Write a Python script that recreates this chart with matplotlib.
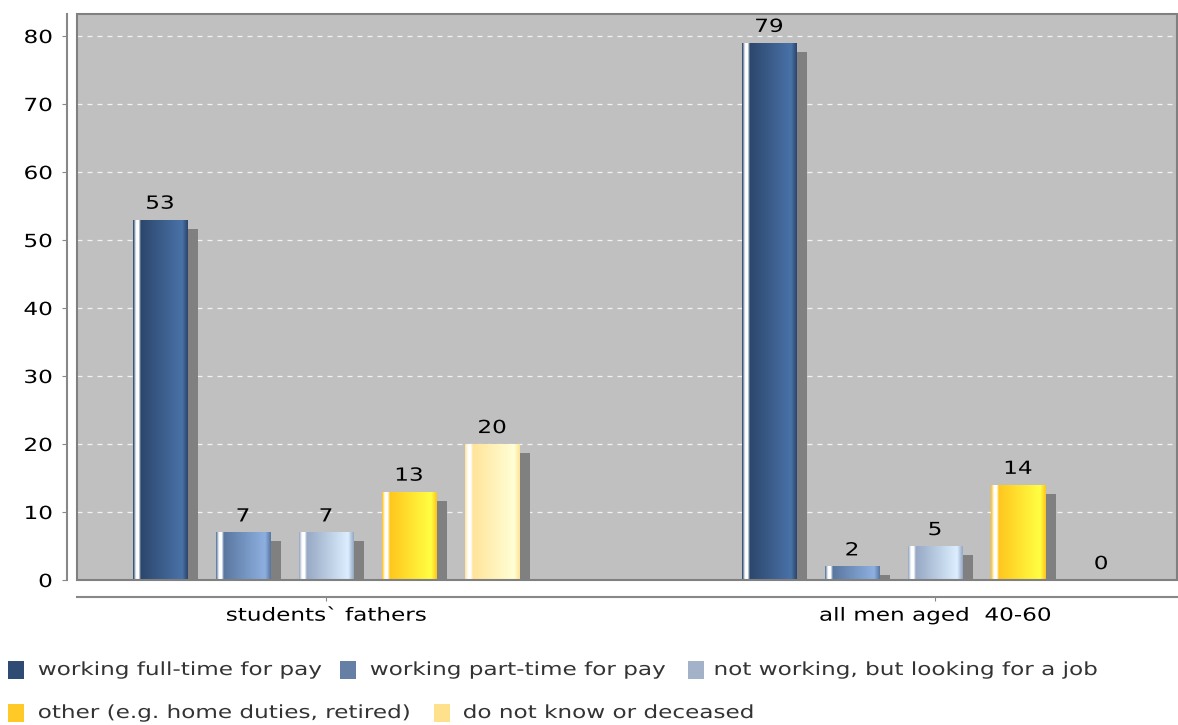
import numpy as np
import matplotlib
matplotlib.use("Agg")
import matplotlib.pyplot as plt
from matplotlib.colors import LinearSegmentedColormap
from matplotlib.patches import Rectangle
from matplotlib.patheffects import AbstractPathEffect
from matplotlib.transforms import Affine2D

categories = ["students` fathers", "all men aged  40-60"]
series = ["working full-time for pay", "working part-time for pay",
          "not working, but looking for a job",
          "other (e.g. home duties, retired)", "do not know or deceased"]
values = [
    [53, 79],
    [7, 2],
    [7, 5],
    [13, 14],
    [20, 0],
]
# dark / light ends of each bar gradient, plus legend swatch colour
dark = ["#2c476d", "#5a77a0", "#97a9c4", "#ffc61e", "#ffe49a"]
light = ["#4a72a8", "#8eb0e0", "#dceeff", "#ffff44", "#ffffd6"]
swatch = ["#2f4b73", "#667fa4", "#a3b2c8", "#ffc928", "#ffe08c"]


# the source font is a wide one, so stretch DejaVu sideways
class StretchX(AbstractPathEffect):
    def __init__(self, sx, anchor="center"):
        super().__init__()
        self.sx = sx
        self.anchor = anchor

    def draw_path(self, renderer, gc, tpath, affine, rgbFace=None):
        ext = tpath.get_extents()
        cx = {"left": ext.x0, "right": ext.x1,
              "center": (ext.x0 + ext.x1) / 2}[self.anchor]
        t = Affine2D().translate(-cx, 0).scale(self.sx, 1).translate(cx, 0)
        renderer.draw_path(gc, tpath, t + affine, rgbFace)


SX = 1.28
FS = 13
plt.rcParams['font.family'] = ['DejaVu Sans']

W, H = 1178, 725
fig = plt.figure(figsize=(W / 100, H / 100), dpi=100)
ax = fig.add_axes([77 / W, 1 - 580 / H, 1100 / W, 566 / H])

ppx = 609.0                     # pixels per category unit
ppy = 6.8                       # pixels per value unit
ax.set_xlim((77 - 326) / ppx, (1177 - 326) / ppx)
ax.set_ylim(0, 566 / ppy)

ax.set_facecolor("#c0c0c0")
for s in ["top", "right"]:
    ax.spines[s].set_visible(False)
ax.spines["left"].set_position(("outward", 7.2))
ax.spines["bottom"].set_position(("outward", 12.2))
for s in ["left", "bottom"]:
    ax.spines[s].set_color("#888888")
    ax.spines[s].set_linewidth(1.5)
ax.add_patch(Rectangle((0, 0), 1, 1, transform=ax.transAxes, fill=False,
                       edgecolor="#808080", lw=1.5, zorder=5, clip_on=False))

ax.set_yticks(range(0, 81, 10))
ax.tick_params(axis="y", length=3.6, color="#888888", labelsize=FS, pad=7)
ax.set_xticks([0, 1])
ax.set_xticklabels(categories)
ax.tick_params(axis="x", length=3, color="#888888", labelsize=FS, pad=4)
for lab in ax.get_yticklabels():
    lab.set_path_effects([StretchX(SX, "right")])
for lab in ax.get_xticklabels():
    lab.set_path_effects([StretchX(SX, "center")])

for y in range(10, 81, 10):
    ax.axhline(y, color="white", lw=0.9, ls=(0, (4, 4)), alpha=0.8, zorder=1)

bw = 55 / ppx
step = 83 / ppx
sdx = 10 / ppx
sdy = 9 / ppy

for i, name in enumerate(series):
    cmap = LinearSegmentedColormap.from_list(
        "g%d" % i,
        [(0.0, dark[i]), (0.05, "#ffffff"), (0.1, "#ffffff"), (0.14, dark[i]),
         (0.9, light[i]), (1.0, dark[i])])
    grad = np.linspace(0, 1, 100).reshape(1, -1)
    for j in range(len(categories)):
        v = values[i][j]
        x = j + (i - 2) * step
        if v - sdy > 0:
            ax.bar(x + sdx, v - sdy, width=bw, color="#808080", zorder=2,
                   linewidth=0)
        if v > 0:
            b = ax.bar(x, v, width=bw, color=dark[i], zorder=3, linewidth=0)[0]
            im = ax.imshow(grad, cmap=cmap, aspect="auto", zorder=3,
                           extent=[x - bw / 2, x + bw / 2, 0, v])
            im.set_clip_path(b)
        ax.annotate(str(v), (x, v), xytext=(0, 5), textcoords="offset points",
                    ha="center", va="bottom", fontsize=FS, zorder=6,
                    path_effects=[StretchX(SX, "center")])

ax.set_xlim((77 - 326) / ppx, (1177 - 326) / ppx)
ax.set_ylim(0, 566 / ppy)

# legend laid out by hand, two rows as in the source
leg_rows = [[0, 1, 2], [3, 4]]
leg_sw_x = [[8, 340, 688], [8, 434]]
leg_tx_x = [[38, 370, 714], [38, 463]]
leg_y = [670, 713]
for r, row in enumerate(leg_rows):
    for k, i in enumerate(row):
        fig.add_artist(Rectangle((leg_sw_x[r][k] / W, 1 - (leg_y[r] + 9) / H),
                                 16 / W, 18 / H, transform=fig.transFigure,
                                 facecolor=swatch[i], edgecolor="none"))
        fig.text(leg_tx_x[r][k] / W, 1 - leg_y[r] / H, series[i],
                 ha="left", va="center", fontsize=FS, color="#333333",
                 path_effects=[StretchX(SX, "left")])

fig.savefig("out.png", dpi=100)
